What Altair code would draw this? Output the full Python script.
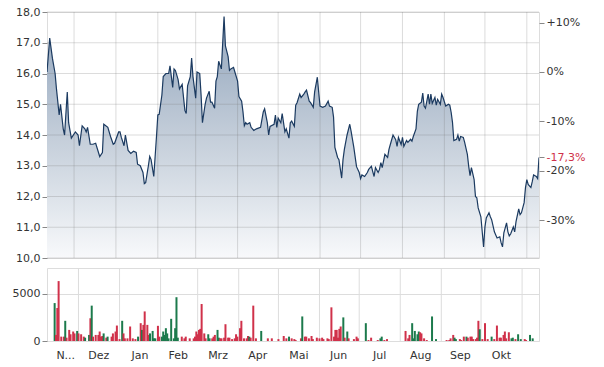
import altair as alt
import pandas as pd

# ---------------- data ----------------
price_dates = [
    "2022-11-11", "2022-11-13", "2022-11-15", "2022-11-17", "2022-11-18", "2022-11-20", "2022-11-21", "2022-11-23",
    "2022-11-24", "2022-11-26", "2022-11-27", "2022-11-29", "2022-12-02", "2022-12-04", "2022-12-05", "2022-12-07",
    "2022-12-09", "2022-12-10", "2022-12-11", "2022-12-13", "2022-12-15", "2022-12-17", "2022-12-20", "2022-12-22",
    "2022-12-23", "2022-12-26", "2022-12-28", "2022-12-30", "2022-12-31", "2023-01-03", "2023-01-04", "2023-01-05",
    "2023-01-07", "2023-01-08", "2023-01-10", "2023-01-12", "2023-01-14", "2023-01-16", "2023-01-17", "2023-01-19",
    "2023-01-21", "2023-01-22", "2023-01-23", "2023-01-25", "2023-01-26", "2023-01-27", "2023-01-29", "2023-01-31",
    "2023-02-01", "2023-02-02", "2023-02-04", "2023-02-05", "2023-02-07", "2023-02-09", "2023-02-10", "2023-02-12",
    "2023-02-13", "2023-02-14", "2023-02-16", "2023-02-17", "2023-02-19", "2023-02-21", "2023-02-22", "2023-02-23",
    "2023-02-25", "2023-02-26", "2023-02-27", "2023-03-01", "2023-03-02", "2023-03-04", "2023-03-05", "2023-03-06",
    "2023-03-08", "2023-03-09", "2023-03-11", "2023-03-12", "2023-03-13", "2023-03-15", "2023-03-16", "2023-03-17",
    "2023-03-18", "2023-03-20", "2023-03-22", "2023-03-23", "2023-03-25", "2023-03-26", "2023-03-27", "2023-03-29",
    "2023-03-30", "2023-04-01", "2023-04-02", "2023-04-04", "2023-04-05", "2023-04-06", "2023-04-07", "2023-04-08",
    "2023-04-10", "2023-04-11", "2023-04-13", "2023-04-15", "2023-04-18", "2023-04-20", "2023-04-21", "2023-04-23",
    "2023-04-24", "2023-04-25", "2023-04-28", "2023-04-29", "2023-04-30", "2023-05-01", "2023-05-03", "2023-05-04",
    "2023-05-06", "2023-05-07", "2023-05-09", "2023-05-10", "2023-05-11", "2023-05-13", "2023-05-14", "2023-05-15",
    "2023-05-17", "2023-05-18", "2023-05-20", "2023-05-21", "2023-05-22", "2023-05-24", "2023-05-25", "2023-05-27",
    "2023-05-28", "2023-05-30", "2023-05-31", "2023-06-01", "2023-06-03", "2023-06-05", "2023-06-07", "2023-06-08",
    "2023-06-10", "2023-06-11", "2023-06-12", "2023-06-14", "2023-06-15", "2023-06-17", "2023-06-18", "2023-06-19",
    "2023-06-21", "2023-06-23", "2023-06-24", "2023-06-26", "2023-06-28", "2023-06-30", "2023-07-01", "2023-07-02",
    "2023-07-04", "2023-07-06", "2023-07-07", "2023-07-09", "2023-07-10", "2023-07-11", "2023-07-12", "2023-07-14",
    "2023-07-15", "2023-07-16", "2023-07-17", "2023-07-19", "2023-07-21", "2023-07-22", "2023-07-23", "2023-07-25",
    "2023-07-27", "2023-07-28", "2023-07-29", "2023-07-31", "2023-08-01", "2023-08-02", "2023-08-04", "2023-08-05",
    "2023-08-07", "2023-08-08", "2023-08-09", "2023-08-11", "2023-08-12", "2023-08-13", "2023-08-15", "2023-08-16",
    "2023-08-17", "2023-08-18", "2023-08-20", "2023-08-21", "2023-08-22", "2023-08-23", "2023-08-25", "2023-08-26",
    "2023-08-27", "2023-08-29", "2023-08-30", "2023-08-31", "2023-09-02", "2023-09-04", "2023-09-05", "2023-09-06",
    "2023-09-07", "2023-09-08", "2023-09-10", "2023-09-11", "2023-09-12", "2023-09-13", "2023-09-15", "2023-09-16",
    "2023-09-18", "2023-09-19", "2023-09-20", "2023-09-21", "2023-09-23", "2023-09-24", "2023-09-25", "2023-09-26",
    "2023-09-28", "2023-09-30", "2023-10-01", "2023-10-02", "2023-10-04", "2023-10-05", "2023-10-06", "2023-10-08",
    "2023-10-09", "2023-10-10", "2023-10-12", "2023-10-13", "2023-10-14", "2023-10-15", "2023-10-17", "2023-10-18",
    "2023-10-19", "2023-10-20", "2023-10-22", "2023-10-23", "2023-10-24", "2023-10-26", "2023-10-27", "2023-10-28",
    "2023-10-30", "2023-10-31", "2023-11-01", "2023-11-02", "2023-11-04", "2023-11-05", "2023-11-06", "2023-11-08",
    "2023-11-09", "2023-11-10",
]
price_values = [
    16.05, 17.15, 16.5, 16.0, 15.5, 14.65, 15.0, 14.2,
    14.0, 15.4, 14.4, 13.9, 14.1, 14.0, 13.65, 14.3,
    14.2, 14.1, 14.25, 13.7, 13.7, 13.73, 13.3, 13.43,
    14.35, 14.25, 13.95, 13.7, 13.73, 14.1, 14.1, 13.92,
    13.65, 14.0, 13.5, 13.4, 13.47, 13.43, 13.05, 13.0,
    12.78, 12.42, 12.45, 13.0, 13.3, 13.2, 12.65, 13.95,
    14.65, 14.67, 15.3, 15.9, 16.0, 16.0, 16.25, 15.55,
    16.15, 16.1, 15.8, 15.5, 15.65, 14.8, 14.7, 15.6,
    15.9, 16.5, 15.9, 15.2, 16.05, 16.0, 15.3, 14.4,
    15.0, 15.2, 15.42, 15.07, 15.07, 14.87, 15.75, 15.9,
    16.4, 16.15, 17.85, 16.9, 16.55, 16.1, 16.15, 16.2,
    16.05, 15.75, 15.25, 15.1, 14.75, 14.3, 14.4, 14.35,
    14.4, 14.25, 14.15, 14.2, 14.25, 14.75, 14.85, 14.4,
    14.0, 14.28, 14.35, 14.65, 14.25, 14.55, 14.4, 14.7,
    14.1, 14.2, 13.9, 14.4, 14.45, 14.28, 14.97, 15.05,
    15.33, 15.22, 15.33, 15.4, 15.46, 15.1, 15.05, 14.9,
    15.4, 15.88, 15.4, 14.94, 14.9, 14.94, 15.1, 14.94,
    14.9, 14.58, 13.6, 13.27, 13.2, 12.6, 13.2, 13.53,
    14.0, 14.35, 14.12, 13.6, 12.97, 12.78, 12.58, 12.7,
    12.65, 12.78, 12.88, 12.98, 12.81, 12.65, 12.94, 12.78,
    12.88, 13.1, 12.94, 13.37, 13.27, 13.53, 13.69, 14.0,
    13.85, 13.63, 13.92, 13.69, 13.92, 13.63, 13.82, 13.76,
    13.86, 13.8, 13.95, 14.2, 14.77, 15.0, 15.07, 15.36,
    14.94, 14.87, 15.33, 15.0, 15.33, 15.03, 15.22, 14.97,
    15.16, 15.0, 15.33, 15.22, 14.94, 15.0, 14.97, 14.74,
    14.41, 13.82, 13.86, 14.0, 13.8, 13.95, 13.92, 13.76,
    13.37, 12.98, 12.68, 12.94, 12.55, 12.0, 11.96, 11.63,
    11.34, 10.36, 11.01, 11.3, 11.47, 11.34, 11.24, 10.85,
    10.75, 10.65, 10.69, 10.49, 10.36, 10.82, 11.14, 10.85,
    10.72, 10.78, 11.01, 10.85, 11.18, 11.6, 11.41, 11.47,
    11.8, 12.29, 12.55, 12.39, 12.29, 12.48, 12.7, 12.65,
    12.58, 13.27,
]

vol_dates = [
    "2022-11-13", "2022-11-14", "2022-11-15", "2022-11-16", "2022-11-18", "2022-11-20", "2022-11-21", "2022-11-22",
    "2022-11-24", "2022-11-25", "2022-11-27", "2022-11-28", "2022-11-30", "2022-12-01", "2022-12-03", "2022-12-05",
    "2022-12-06", "2022-12-09", "2022-12-10", "2022-12-11", "2022-12-12", "2022-12-14", "2022-12-16", "2022-12-17",
    "2022-12-18", "2022-12-19", "2022-12-20", "2022-12-22", "2022-12-23", "2022-12-26", "2022-12-27", "2022-12-29",
    "2022-12-30", "2023-01-01", "2023-01-03", "2023-01-04", "2023-01-05", "2023-01-07", "2023-01-09", "2023-01-11",
    "2023-01-13", "2023-01-15", "2023-01-17", "2023-01-18", "2023-01-19", "2023-01-20", "2023-01-22", "2023-01-23",
    "2023-01-24", "2023-01-26", "2023-01-27", "2023-01-28", "2023-01-30", "2023-01-31", "2023-02-02", "2023-02-03",
    "2023-02-04", "2023-02-05", "2023-02-06", "2023-02-07", "2023-02-09", "2023-02-11", "2023-02-12", "2023-02-13",
    "2023-02-14", "2023-02-17", "2023-02-19", "2023-02-20", "2023-02-23", "2023-02-26", "2023-02-27", "2023-02-28",
    "2023-03-01", "2023-03-02", "2023-03-03", "2023-03-04", "2023-03-06", "2023-03-07", "2023-03-09", "2023-03-10",
    "2023-03-12", "2023-03-13", "2023-03-14", "2023-03-16", "2023-03-17", "2023-03-18", "2023-03-19", "2023-03-21",
    "2023-03-22", "2023-03-24", "2023-03-25", "2023-03-27", "2023-03-29", "2023-03-30", "2023-03-31", "2023-04-02",
    "2023-04-03", "2023-04-05", "2023-04-07", "2023-04-08", "2023-04-09", "2023-04-10", "2023-04-12", "2023-04-14",
    "2023-04-18", "2023-04-23", "2023-04-26", "2023-05-01", "2023-05-05", "2023-05-07", "2023-05-09", "2023-05-11",
    "2023-05-13", "2023-05-14", "2023-05-18", "2023-05-19", "2023-05-21", "2023-05-22", "2023-05-24", "2023-05-26",
    "2023-05-27", "2023-05-30", "2023-06-01", "2023-06-03", "2023-06-04", "2023-06-07", "2023-06-08", "2023-06-10",
    "2023-06-12", "2023-06-13", "2023-06-14", "2023-06-15", "2023-06-16", "2023-06-17", "2023-06-19", "2023-06-20",
    "2023-06-22", "2023-06-23", "2023-06-27", "2023-06-29", "2023-06-30", "2023-07-06", "2023-07-08", "2023-07-10",
    "2023-07-15", "2023-07-17", "2023-07-18", "2023-07-20", "2023-07-22", "2023-08-05", "2023-08-07", "2023-08-08",
    "2023-08-10", "2023-08-11", "2023-08-12", "2023-08-14", "2023-08-15", "2023-08-16", "2023-08-17", "2023-08-19",
    "2023-08-21", "2023-08-25", "2023-08-28", "2023-09-05", "2023-09-07", "2023-09-08", "2023-09-10", "2023-09-11",
    "2023-09-12", "2023-09-15", "2023-09-16", "2023-09-18", "2023-09-20", "2023-09-21", "2023-09-23", "2023-09-24",
    "2023-09-25", "2023-09-27", "2023-09-28", "2023-09-29", "2023-09-30", "2023-10-02", "2023-10-04", "2023-10-06",
    "2023-10-09", "2023-10-11", "2023-10-13", "2023-10-15", "2023-10-16", "2023-10-18", "2023-10-19", "2023-10-20",
    "2023-10-22", "2023-10-24", "2023-10-25", "2023-10-27", "2023-10-29", "2023-10-31", "2023-11-03", "2023-11-04",
    "2023-11-07", "2023-11-09",
]
vol_values = [
    4000, 640, 3480, 6320, 460, 460, 2130, 350,
    1170, 710, 1000, 800, 1060, 800, 710, 460,
    350, 640, 2400, 3730, 460, 640, 640, 1000,
    460, 530, 800, 350, 460, 460, 800, 1000,
    1630, 200, 2130, 800, 280, 280, 1530, 280,
    200, 460, 1880, 1170, 1700, 3120, 1700, 640,
    800, 1060, 280, 280, 1600, 460, 460, 1000,
    640, 1350, 800, 280, 2340, 280, 1350, 4620,
    350, 460, 280, 460, 280, 280, 460, 1000,
    710, 1170, 1280, 3900, 800, 280, 710, 280,
    280, 460, 640, 1170, 350, 280, 280, 350,
    1770, 350, 350, 200, 280, 710, 460, 1350,
    2130, 280, 280, 530, 460, 350, 3730, 280,
    1060, 280, 280, 200, 530, 280, 460, 280,
    200, 100, 280, 2590, 460, 460, 280, 530,
    200, 350, 280, 350, 200, 280, 200, 3550,
    460, 1170, 1170, 350, 1280, 1530, 2490, 350,
    1000, 280, 200, 460, 280, 1880, 100, 350,
    100, 280, 460, 100, 200, 1060, 280, 640,
    1880, 280, 1060, 710, 1000, 920, 800, 280,
    100, 2590, 200, 100, 100, 280, 640, 350,
    200, 200, 100, 460, 460, 350, 460, 460,
    200, 200, 350, 2130, 1240, 200, 1880, 200,
    460, 200, 1630, 350, 350, 640, 1000, 280,
    920, 280, 350, 200, 710, 200, 200, 100,
    640, 280,
]
vol_dirs = [
    "up", "down", "down", "down", "down", "down", "up", "down",
    "down", "down", "down", "down", "up", "down", "down", "down",
    "up", "up", "down", "up", "down", "down", "down", "down",
    "down", "down", "up", "down", "up", "down", "down", "down",
    "down", "down", "up", "down", "down", "down", "down", "down",
    "down", "up", "down", "up", "down", "down", "down", "down",
    "up", "up", "up", "up", "down", "down", "up", "up",
    "up", "up", "up", "up", "up", "up", "up", "up",
    "up", "down", "down", "down", "down", "down", "down", "down",
    "down", "down", "down", "down", "down", "down", "up", "up",
    "down", "down", "down", "up", "up", "down", "down", "down",
    "down", "down", "down", "down", "down", "down", "down", "down",
    "down", "down", "down", "down", "up", "down", "down", "down",
    "up", "down", "down", "down", "down", "down", "up", "down",
    "down", "down", "down", "up", "down", "down", "down", "down",
    "down", "down", "down", "down", "down", "down", "down", "down",
    "down", "down", "down", "down", "down", "down", "up", "down",
    "up", "down", "down", "down", "down", "up", "down", "down",
    "down", "up", "up", "down", "down", "down", "down", "down",
    "up", "up", "up", "up", "up", "down", "down", "down",
    "down", "up", "up", "down", "down", "down", "down", "up",
    "up", "down", "down", "down", "up", "down", "down", "down",
    "down", "down", "down", "down", "up", "down", "down", "down",
    "up", "down", "down", "down", "down", "down", "down", "down",
    "down", "up", "up", "down", "up", "up", "down", "down",
    "up", "up",
]

month_starts = [
    "2022-12-01", "2023-01-01", "2023-02-01", "2023-03-01", "2023-04-01", "2023-05-01",
    "2023-06-01", "2023-07-01", "2023-08-01", "2023-09-01", "2023-10-01", "2023-11-01",
]
label_days = [(2022, 11, 21), (2022, 12, 16), (2023, 1, 16), (2023, 2, 14), (2023, 3, 16), (2023, 4, 15),
              (2023, 5, 16), (2023, 6, 15), (2023, 7, 16), (2023, 8, 16), (2023, 9, 15), (2023, 10, 16)]
month_labels = ["N...", "Dez", "Jan", "Feb", "Mrz", "Apr", "Mai", "Jun", "Jul", "Aug", "Sep", "Okt"]

base_price = 16.05
pct_ticks = [0.1, 0.0, -0.1, -0.2, -0.3]
last_change = -0.173
price_ticks = [10, 11, 12, 13, 14, 15, 16, 17, 18]
vol_ticks = [0, 5000]

# ---------------- styling ----------------
LINE = "#1b3a60"
RED = "#d0314a"
GREEN = "#1c7a4c"
GRID = "#dddddd"
GRID_OVER = "rgba(120,120,120,0.26)"
TXT = "#333333"
FONT = "DejaVu Sans"

price_df = pd.DataFrame({"date": price_dates, "price": price_values})
vol_df = pd.DataFrame({"date": vol_dates, "volume": vol_values, "dir": vol_dirs})
grid_df = pd.DataFrame({"date": month_starts})
hgrid_df = pd.DataFrame({"level": price_ticks})

x_scale = alt.Scale(type="utc",
                    domain=[alt.DateTime(year=2022, month=11, date=11, utc=True),
                            alt.DateTime(year=2023, month=11, date=10, utc=True)])

month_map = {}
for (yy, mm, dd), lab in zip(label_days, month_labels):
    month_map[mm - 1] = lab
label_array = "[" + ",".join("'" + month_map[i] + "'" for i in range(12)) + "]"

x_axis = alt.Axis(values=[alt.DateTime(year=y, month=m, date=d, utc=True) for (y, m, d) in label_days],
                  labelExpr=label_array + "[utcmonth(datum.value)]",
                  grid=False, ticks=False, domain=False, labelPadding=8, title=None,
                  labelOverlap=False, labelFlush=False)

gradient = alt.Gradient(
    gradient="linear",
    stops=[alt.GradientStop(color="#9aacc1", offset=0),
           alt.GradientStop(color="#a9b8ca", offset=0.24),
           alt.GradientStop(color="#c3cdd9", offset=0.49),
           alt.GradientStop(color="#dde3ea", offset=0.75),
           alt.GradientStop(color="#f8f9fb", offset=1)],
    x1=1, x2=1, y1=0, y2=1,
)

W = 492
y_price = alt.Scale(domain=[10, 18], zero=False, nice=False)
y_axis = alt.Axis(values=price_ticks,
                  labelExpr="replace(format(datum.value, '.1f'), '.', ',')",
                  grid=False, domain=False, title=None, tickSize=5, labelOverlap=False)

# ---- price panel ----
p_area = alt.Chart(price_df).mark_area(color=gradient, clip=True).encode(
    x=alt.X("date:T", scale=x_scale, axis=None),
    y=alt.Y("price:Q", scale=y_price, axis=y_axis),
    y2=alt.datum(10),
)
p_vgrid = alt.Chart(grid_df).mark_rule(color=GRID_OVER, strokeWidth=1).encode(
    x=alt.X("date:T", scale=x_scale, axis=None)
)
p_hgrid = alt.Chart(hgrid_df).mark_rule(color=GRID_OVER, strokeWidth=1).encode(
    y=alt.Y("level:Q", scale=y_price, axis=y_axis)
)
p_line = alt.Chart(price_df).mark_line(color=LINE, strokeWidth=1.2, clip=True).encode(
    x=alt.X("date:T", scale=x_scale, axis=None),
    y=alt.Y("price:Q", scale=y_price, axis=y_axis),
)
price_main = alt.layer(p_area, p_vgrid, p_hgrid, p_line)

red_label = f"{last_change * 100:.1f}%".replace(".", ",")
p_pct = alt.Chart(price_df).transform_calculate(
    pct=f"datum.price / {base_price} - 1"
).mark_line(opacity=0).encode(
    x=alt.X("date:T", scale=x_scale, axis=None),
    y=alt.Y("pct:Q",
            scale=alt.Scale(domain=[10 / base_price - 1, 18 / base_price - 1], zero=False, nice=False),
            axis=alt.Axis(orient="right", values=pct_ticks + [last_change],
                          labelExpr=f"abs(datum.value - ({last_change})) < 0.0005 ? '{red_label}' : "
                                    "(datum.value > 0.0005 ? '+' : '') + round(datum.value * 100) + '%'",
                          labelColor={"expr": f"abs(datum.value - ({last_change})) < 0.0005 ? '{RED}' : '{TXT}'"},
                          grid=False, domain=False, title=None, tickSize=5, labelOverlap=False)),
)
price_chart = alt.layer(price_main, p_pct).resolve_scale(y="independent").properties(
    width=W, height=246
)

# ---- volume panel ----
v_grid = alt.Chart(grid_df).mark_rule(color=GRID, strokeWidth=1).encode(
    x=alt.X("date:T", scale=x_scale, axis=x_axis)
)
v_bars = alt.Chart(vol_df).mark_bar(size=2).encode(
    x=alt.X("date:T", scale=x_scale, axis=x_axis),
    y=alt.Y("volume:Q", scale=alt.Scale(domain=[0, 7700], nice=False),
            axis=alt.Axis(values=vol_ticks, format="d", grid=True, gridColor=GRID,
                          domain=False, title=None, tickSize=5)),
    color=alt.Color("dir:N", scale=alt.Scale(domain=["up", "down"], range=[GREEN, RED]), legend=None),
)
vol_chart = alt.layer(v_grid, v_bars).properties(width=W, height=73)

chart = alt.vconcat(price_chart, vol_chart, spacing=10, bounds="flush").properties(
    padding={"left": 11, "top": 5, "right": 5, "bottom": 5}
).configure_view(
    stroke=GRID
).configure_axis(
    labelFont=FONT, labelFontSize=11, labelColor=TXT, tickColor="#888888", tickWidth=1
)

chart.save("out.html", embed_options={"renderer": "svg", "actions": False})
